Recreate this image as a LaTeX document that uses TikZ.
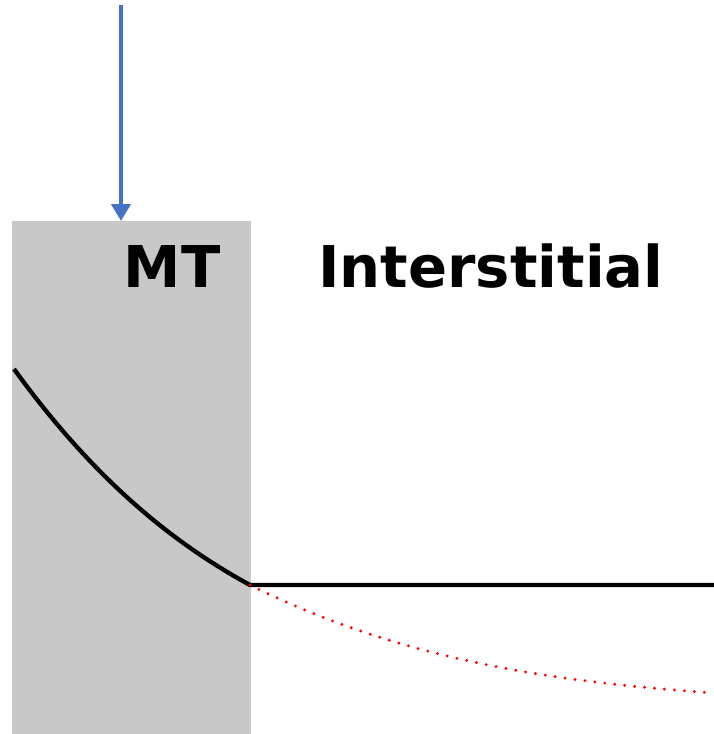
\documentclass[tikz,border=0pt]{standalone}
\usepackage{fontspec}
\usepackage{tikz}
\usetikzlibrary{arrows.meta}
\setmainfont{DejaVu Sans}
\definecolor{mtgray}{HTML}{C8C8C8}
\definecolor{arrowblue}{HTML}{4472C4}
\tikzset{
  label text/.style={anchor=base,inner sep=0pt,font=\bfseries\fontsize{57.6}{60}\selectfont},
  profile/.style={line width=4.3pt,black},
  decay/.style={red,line width=3.2pt,line cap=round,dash pattern=on 0pt off 10pt}
}

\begin{document}
\begin{tikzpicture}[x=1pt,y=-1pt]
    \useasboundingbox (0,0) rectangle (714,734);
    \fill[mtgray] (12,221) rectangle (251,734);
    \coordinate (src) at (121,5);
    \coordinate (entry) at (121,221);
    \draw[arrowblue,line width=4.2pt,-{Triangle[width=19pt,length=17pt]}] (src) -- (entry);
    \node[label text] (mt) at (172,287) {MT};
    \node[label text] (inter) at (491,287) {Interstitial};
    \coordinate (start) at (14,369);
    \coordinate (edge) at (250,585);
    \coordinate (far) at (714,585);
    \coordinate (tail) at (714,693);
    \draw[profile] (start) .. controls (93,478) and (171,542) .. (edge) -- (far);
    \draw[decay] (edge) .. controls (405,662) and (559,682) .. (tail);
  \end{tikzpicture}
\end{document}
